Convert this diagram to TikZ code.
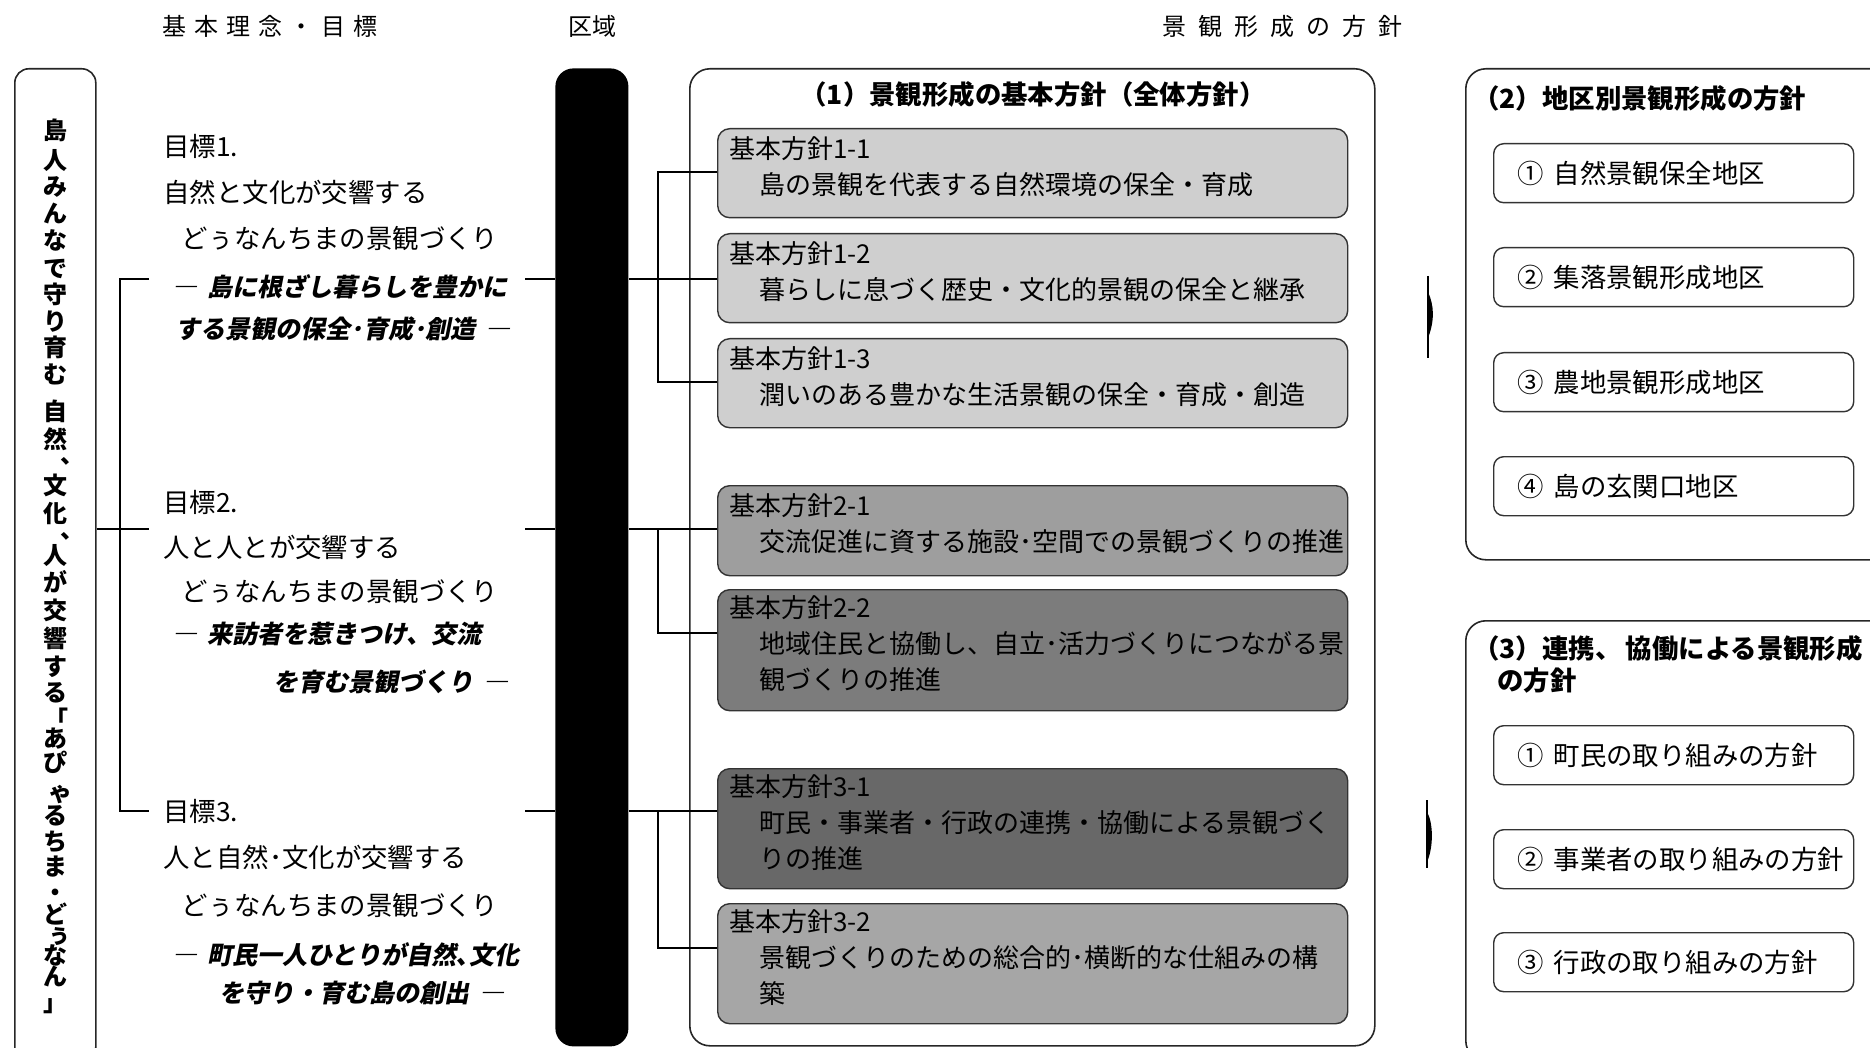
\documentclass[tikz,border=0pt]{standalone}
\usepackage{fontspec}
\setmainfont{Noto Sans CJK JP}
\newfontfamily\jpit{Noto Sans CJK JP}[FakeSlant=0.2]
\definecolor{fA}{HTML}{CFCFCF}
\definecolor{fB}{HTML}{9E9E9E}
\definecolor{fC}{HTML}{7C7C7C}
\definecolor{fD}{HTML}{686868}
\definecolor{fE}{HTML}{A6A6A6}
\begin{document}
\begin{tikzpicture}[x=0.5pt,y=-0.5pt,
  hdr/.style={inner sep=0pt,font=\fontsize{12}{14}\selectfont},
  goal/.style={anchor=west,inner sep=0pt,font=\fontsize{13.2}{16}\selectfont},
  motto/.style={inner sep=0pt,font=\jpit\bfseries\fontsize{12.5}{15}\selectfont},
  vch/.style={inner sep=0pt,text height=9pt,text depth=1.5pt,font=\bfseries\fontsize{12}{14}\selectfont},
  vsm/.style={inner sep=0pt,text height=5pt,text depth=0pt,font=\bfseries\fontsize{12}{14}\selectfont},
  conn/.style={line width=1.3pt},
  frame/.style={draw=black!85,line width=0.8pt,rounded corners=10pt,anchor=north west,inner sep=0pt},
  polbox/.style={draw=black!80,line width=0.7pt,rounded corners=6pt,anchor=north west,minimum width=315pt,inner sep=0pt},
  poltext/.style={anchor=north west,align=left,inner sep=0pt,font=\fontsize{13}{18}\selectfont},
  areabox/.style={draw=black!80,line width=0.7pt,rounded corners=5pt,anchor=north west,minimum width=180pt,minimum height=29.5pt,inner sep=0pt},
  areatext/.style={anchor=west,inner sep=0pt,font=\fontsize{13.2}{16}\selectfont},
  ttl/.style={inner sep=0pt,font=\bfseries\fontsize{13.2}{16}\selectfont}
]
\useasboundingbox (0,0) rectangle (1870,1048);

% headers
\node[hdr] (h1) at (270,26) {\addfontfeature{LetterSpace=32}基本理念・目標};
\node[hdr] (h2) at (592,26) {区域};
\node[hdr] (h3) at (1282,26) {\addfontfeature{LetterSpace=50}景観形成の方針};

% frames
\node[frame,minimum width=40.5pt,minimum height=496pt,rounded corners=7pt] (vbox) at (14,68) {};
\node[fill=black,rounded corners=9pt,anchor=north west,inner sep=0pt,minimum width=36.5pt,minimum height=489pt] (bar) at (555,68) {};
\node[frame,minimum width=342.5pt,minimum height=488.5pt] (f1) at (689,68) {};
\node[frame,minimum width=220pt,minimum height=245.5pt] (f2) at (1465,68) {};
\node[frame,minimum width=220pt,minimum height=220pt] (f3) at (1465,620) {};

% vertical motto
\foreach \ch/\yy [count=\i] in {島/132,人/162,み/188,ん/215,な/242,で/270,守/296,り/323,育/349,む/376,自/413,然/441,文/487,化/515,人/557,が/584,交/612,響/640,す/668,る/694,あ/740,ぴ/764,る/817,ち/843,ま/868,ど/916,な/957,ん/978}
  \node[vch] (v\i) at (55,\yy) {\ch};
\node[vsm] (vs1) at (60,796) {ゃ};
\node[vsm] (vs2) at (59,938) {ぅ};
\node[vsm] (vdot) at (55,896) {・};
\node[vsm] (vc1) at (73,458) {、};
\node[vsm] (vc2) at (73,533) {、};
\node[vsm] (vq1) at (57,723) {「};
\node[vsm] (vq2) at (55,1006) {」};

% goals
\node[goal] (g1a) at (163,146) {目標1.};
\node[goal] (g1b) at (163,192) {自然と文化が交響する};
\node[goal] (g1c) at (181,238) {どぅなんちまの景観づくり};
\node[motto,anchor=west] (g1d) at (172,287) {―\hspace{5pt}島に根ざし暮らしを豊かに};
\node[motto,anchor=east] (g1e) at (511,329) {する景観の保全･育成･創造\hspace{5pt}―};

\node[goal] (g2a) at (163,502) {目標2.};
\node[goal] (g2b) at (163,547) {人と人とが交響する};
\node[goal] (g2c) at (181,591) {どぅなんちまの景観づくり};
\node[motto,anchor=west] (g2d) at (172,634) {―\hspace{5pt}来訪者を惹きつけ、交流};
\node[motto,anchor=east] (g2e) at (509,682) {を育む景観づくり\hspace{5pt}―};

\node[goal] (g3a) at (163,811) {目標3.};
\node[goal] (g3b) at (163,857) {人と自然･文化が交響する};
\node[goal] (g3c) at (181,905) {どぅなんちまの景観づくり};
\node[motto,anchor=west] (g3d) at (172,955) {―\hspace{5pt}町民一人ひとりが自然､文化};
\node[motto,anchor=east] (g3e) at (505,993) {を守り・育む島の創出\hspace{5pt}―};

% (1) title
\node[ttl] (t1) at (1033,94) {（1）景観形成の基本方針（全体方針）};

% policy boxes
\node[polbox,fill=fA,minimum height=44.5pt] (b11) at (717,128) {};
\node[polbox,fill=fA,minimum height=44.5pt] (b12) at (717,233) {};
\node[polbox,fill=fA,minimum height=44.5pt] (b13) at (717,338) {};
\node[polbox,fill=fB,minimum height=45pt] (b21) at (717,485) {};
\node[polbox,fill=fC,minimum height=60.5pt] (b22) at (717,589) {};
\node[polbox,fill=fD,minimum height=60pt] (b31) at (717,768) {};
\node[polbox,fill=fE,minimum height=60pt] (b32) at (717,903) {};

\node[poltext] (p11) at ([shift={(12,8)}]b11.north west) {基本方針1-1\\\hspace*{15pt}島の景観を代表する自然環境の保全・育成};
\node[poltext] (p12) at ([shift={(12,8)}]b12.north west) {基本方針1-2\\\hspace*{15pt}暮らしに息づく歴史・文化的景観の保全と継承};
\node[poltext] (p13) at ([shift={(12,8)}]b13.north west) {基本方針1-3\\\hspace*{15pt}潤いのある豊かな生活景観の保全・育成・創造};
\node[poltext] (p21) at ([shift={(12,8)}]b21.north west) {基本方針2-1\\\hspace*{15pt}交流促進に資する施設･空間での景観づくりの推進};
\node[poltext] (p22) at ([shift={(12,6)}]b22.north west) {基本方針2-2\\\hspace*{15pt}地域住民と協働し、自立･活力づくりにつながる景\\\hspace*{15pt}観づくりの推進};
\node[poltext] (p31) at ([shift={(12,6)}]b31.north west) {基本方針3-1\\\hspace*{15pt}町民・事業者・行政の連携・協働による景観づく\\\hspace*{15pt}りの推進};
\node[poltext] (p32) at ([shift={(12,6)}]b32.north west) {基本方針3-2\\\hspace*{15pt}景観づくりのための総合的･横断的な仕組みの構\\\hspace*{15pt}築};

% (2) district box
\node[ttl,anchor=west] (t2) at (1473,98) {（2）地区別景観形成の方針};
\node[areabox] (a1) at (1493,143) {};
\node[areabox] (a2) at (1493,247) {};
\node[areabox] (a3) at (1493,352) {};
\node[areabox] (a4) at (1493,456) {};
\node[areatext] (at1) at ([xshift=12]a1.west) {①\hspace{5pt}自然景観保全地区};
\node[areatext] (at2) at ([xshift=12]a2.west) {②\hspace{5pt}集落景観形成地区};
\node[areatext] (at3) at ([xshift=12]a3.west) {③\hspace{5pt}農地景観形成地区};
\node[areatext] (at4) at ([xshift=12]a4.west) {④\hspace{5pt}島の玄関口地区};

% (3) cooperation box
\node[ttl,anchor=west] (t3) at (1473,648) {（3）連携、\,協働による景観形成};
\node[ttl,anchor=west] (t3b) at (1497,681) {の方針};
\node[areabox] (c1) at (1493,725) {};
\node[areabox] (c2) at (1493,829) {};
\node[areabox] (c3) at (1493,932) {};
\node[areatext] (ct1) at ([xshift=12]c1.west) {①\hspace{5pt}町民の取り組みの方針};
\node[areatext] (ct2) at ([xshift=12]c2.west) {②\hspace{5pt}事業者の取り組みの方針};
\node[areatext] (ct3) at ([xshift=12]c3.west) {③\hspace{5pt}行政の取り組みの方針};

% connectors on the left
\coordinate (L1) at (149,279); \coordinate (B1) at (120,279);
\coordinate (L3) at (149,811); \coordinate (B3) at (120,811);
\coordinate (L2) at (149,529);
\draw[conn] (L1) -- (B1) -- (B3) -- (L3);
\draw[conn] (vbox.east |- L2) -- (L2);
\coordinate (R1) at (525,279); \coordinate (R2) at (525,529); \coordinate (R3) at (525,811);
\draw[conn] (R1) -- (R1 -| bar.west);
\draw[conn] (R2) -- (R2 -| bar.west);
\draw[conn] (R3) -- (R3 -| bar.west);

% connectors right of the bar
\draw[conn] (bar.east |- R1) -- (R1 -| b12.west);
\coordinate (J1a) at (658,172); \coordinate (J1b) at (658,382);
\draw[conn] (J1a -| b11.west) -- (J1a) -- (J1b) -- (J1b -| b13.west);
\draw[conn] (bar.east |- R2) -- (R2 -| b21.west);
\coordinate (J2a) at (658,529); \coordinate (J2b) at (658,633);
\draw[conn] (J2a) -- (J2b) -- (J2b -| b22.west);
\draw[conn] (bar.east |- R3) -- (R3 -| b31.west);
\coordinate (J3a) at (658,811); \coordinate (J3b) at (658,948);
\draw[conn] (J3a) -- (J3b) -- (J3b -| b32.west);

% small marks between (1) and (2)/(3)
\coordinate (m1t) at (1428,276); \coordinate (m1b) at (1428,358);
\draw[line width=0.8pt] (m1t) -- (m1b);
\fill (1428,292) .. controls (1434,305) and (1435,320) .. (1428,338) -- cycle;
\coordinate (m2t) at (1427,800); \coordinate (m2b) at (1427,868);
\draw[line width=0.8pt] (m2t) -- (m2b);
\fill (1427,812) .. controls (1433,822) and (1434,846) .. (1427,862) -- cycle;
\end{tikzpicture}
\end{document}
